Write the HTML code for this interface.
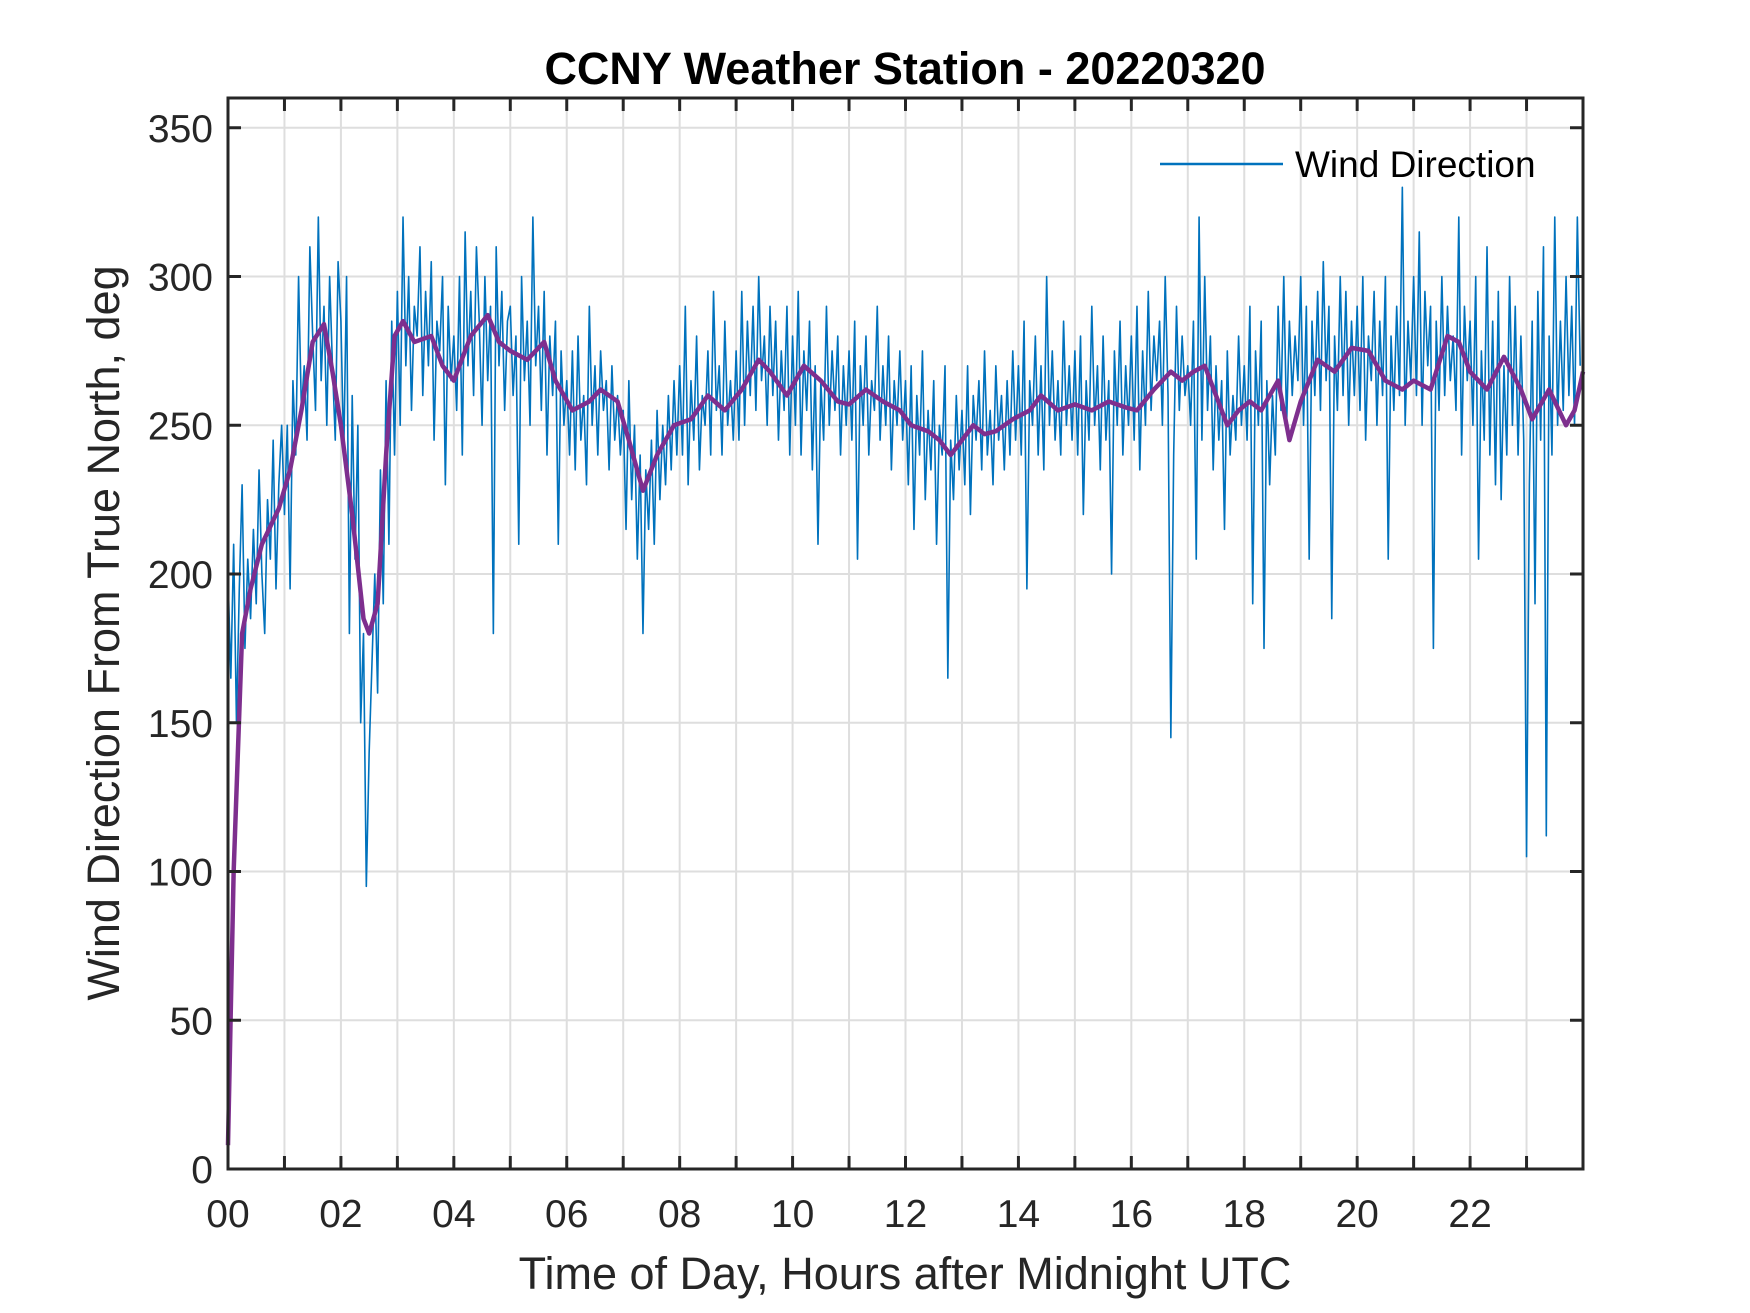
<!DOCTYPE html>
<html><head><meta charset="utf-8"><style>
html,body{margin:0;padding:0;background:#fff;}
svg{display:block;font-family:"Liberation Sans",Arial,sans-serif;}
</style></head><body>
<svg id="chart" width="1750" height="1313" viewBox="0 0 1750 1313" xmlns="http://www.w3.org/2000/svg">
<rect width="1750" height="1313" fill="#fff"/>
<g id="grid"></g>
<g id="series"></g>
<g id="axes"></g>
<text x="905" y="84" text-anchor="middle" font-size="45" font-weight="bold" fill="#000">CCNY Weather Station - 20220320</text>
<text x="905" y="1289" text-anchor="middle" font-size="45" fill="#262626">Time of Day, Hours after Midnight UTC</text>
<text transform="translate(119,633) rotate(-90)" text-anchor="middle" font-size="45" fill="#262626">Wind Direction From True North, deg</text>
<g>
<line x1="1160" y1="164" x2="1283" y2="164" stroke="#0072BD" stroke-width="2.5"/>
<text x="1295" y="177" font-size="37" fill="#000">Wind Direction</text>
</g>
</svg>
<script>
const xTicks=[0,2,4,6,8,10,12,14,16,18,20,22];
const xTickLabels=["00","02","04","06","08","10","12","14","16","18","20","22"];
const yTicks=[0,50,100,150,200,250,300,350];
const rawStepHours=0.05;
const rawDirection=[
200,165,210,150,195,230,175,205,185,215,190,235,200,180,225,205,245,195,230,250,
220,250,195,265,240,300,255,270,245,310,280,255,320,265,290,250,300,270,245,305,
285,240,300,180,260,205,250,150,180,95,140,170,200,160,235,190,265,210,285,240,
295,250,320,270,300,255,290,280,310,260,295,270,305,245,285,275,300,230,290,265,
280,255,300,240,315,270,295,260,310,285,250,300,265,290,180,310,270,295,255,285,
290,260,280,210,300,265,285,250,320,270,290,255,295,240,280,260,285,210,275,250,
265,240,275,235,280,245,260,230,290,250,270,240,275,255,265,235,270,245,260,240,
255,215,265,225,250,205,240,180,235,215,245,210,255,225,250,230,260,235,265,240,
270,240,290,230,265,245,280,235,260,250,275,240,295,255,270,240,285,250,265,245,
275,245,295,250,285,260,290,255,300,265,280,250,290,260,285,245,275,255,290,240,
280,250,295,240,275,255,285,235,270,210,265,245,290,250,275,255,280,240,270,250,
275,245,285,205,270,250,280,240,265,255,290,245,270,250,280,235,265,250,275,245,
265,230,270,215,260,240,275,225,255,235,265,210,250,240,270,165,245,225,260,235,
255,230,270,220,260,245,265,235,275,240,255,230,270,245,260,235,265,240,275,245,
270,240,285,195,265,250,280,240,270,235,300,250,275,245,265,240,285,250,270,245,
275,240,280,220,265,245,290,250,270,235,280,245,265,200,275,250,285,240,270,250,
280,245,290,235,275,250,295,255,280,265,285,250,300,260,145,240,290,255,280,260,
270,250,285,205,320,245,300,255,280,235,270,245,265,215,275,240,260,245,280,250,
270,245,290,190,275,250,285,175,265,230,260,240,290,255,300,250,285,260,280,265,
300,250,290,205,285,260,295,255,305,265,290,185,280,255,300,260,295,250,285,260,
290,255,300,245,280,265,295,250,285,260,300,205,280,255,290,260,330,250,285,265,
300,260,315,250,295,270,290,175,285,255,300,260,290,265,280,255,320,240,290,265,
285,250,300,205,275,245,310,240,285,230,295,225,270,240,300,250,290,240,280,245,
105,230,285,190,295,245,310,112,280,240,320,250,285,255,300,260,290,250,320,270];
const avgHours=[0,0.1,0.25,0.4,0.6,0.9,1.1,1.3,1.5,1.7,1.85,2.0,2.2,2.4,2.5,2.65,2.8,2.95,3.1,3.3,3.6,3.8,4.0,4.3,4.6,4.8,5.0,5.3,5.6,5.8,6.1,6.4,6.6,6.9,7.1,7.35,7.6,7.9,8.2,8.5,8.8,9.1,9.4,9.6,9.9,10.2,10.5,10.8,11.0,11.3,11.6,11.9,12.1,12.4,12.6,12.8,13.0,13.2,13.4,13.6,13.9,14.2,14.4,14.7,15.0,15.3,15.6,15.9,16.1,16.4,16.7,16.9,17.1,17.3,17.5,17.7,17.9,18.1,18.3,18.6,18.8,19.0,19.3,19.6,19.9,20.2,20.5,20.8,21.0,21.3,21.6,21.8,22.0,22.3,22.6,22.9,23.1,23.4,23.7,23.85,24];
const avgDirection=[8,100,180,195,210,222,235,255,278,284,268,250,220,185,180,190,240,280,285,278,280,270,265,280,287,278,275,272,278,265,255,258,262,258,245,228,240,250,252,260,255,262,272,268,260,270,265,258,257,262,258,255,250,248,245,240,245,250,247,248,252,255,260,255,257,255,258,256,255,262,268,265,268,270,260,250,255,258,255,265,245,258,272,268,276,275,265,262,265,262,280,278,268,262,273,262,252,262,250,255,268];

const L=228,R=1583,T=98,B=1169,XMAX=24,YMAX=360;
const sx=h=>L+(R-L)*h/XMAX;
const sy=v=>B-(B-T)*v/YMAX;
const NS="http://www.w3.org/2000/svg";
function mk(tag,attrs,parent){const e=document.createElementNS(NS,tag);for(const k in attrs)e.setAttribute(k,attrs[k]);parent.appendChild(e);return e;}
const grid=document.getElementById('grid'),series=document.getElementById('series'),axes=document.getElementById('axes');
for(let h=1;h<XMAX;h++){
  const g=mk('line',{x1:sx(h),x2:sx(h),y1:T,y2:B,stroke:'#dedede','stroke-width':2},grid);
  
  
}
yTicks.forEach(v=>{if(v===0)return;
  const g=mk('line',{x1:L,x2:R,y1:sy(v),y2:sy(v),stroke:'#dedede','stroke-width':2},grid);
  
  
});
const span=rawDirection.length*rawStepHours;
let d='';rawDirection.forEach((v,i)=>{d+=(i?'L':'M')+sx(i*rawStepHours*XMAX/span).toFixed(2)+' '+sy(v).toFixed(2);});
const raw=mk('path',{d:d,fill:'none',stroke:'#0072BD','stroke-width':1.6,'stroke-linejoin':'round'},series);


let d2='';avgHours.forEach((h,i)=>{d2+=(i?'L':'M')+sx(h).toFixed(2)+' '+sy(avgDirection[i]).toFixed(2);});
const avg=mk('path',{d:d2,fill:'none',stroke:'#7E2F8E','stroke-width':4.5,'stroke-linejoin':'round'},series);


const box=mk('rect',{x:L,y:T,width:R-L,height:B-T,fill:'none',stroke:'#262626','stroke-width':3},axes);


for(let h=1;h<XMAX;h++){
  mk('line',{x1:sx(h),x2:sx(h),y1:B,y2:B-13,stroke:'#262626','stroke-width':3},axes);
  mk('line',{x1:sx(h),x2:sx(h),y1:T,y2:T+13,stroke:'#262626','stroke-width':3},axes);
}
xTicks.forEach((h,i)=>{
  const t=mk('text',{x:sx(h),y:1227,'text-anchor':'middle','font-size':39,fill:'#262626'},axes);
  t.textContent=xTickLabels[i];
  
  
});
yTicks.forEach(v=>{
  mk('line',{x1:L,x2:L+13,y1:sy(v),y2:sy(v),stroke:'#262626','stroke-width':3},axes);
  mk('line',{x1:R,x2:R-13,y1:sy(v),y2:sy(v),stroke:'#262626','stroke-width':3},axes);
  const t=mk('text',{x:213,y:sy(v)+14,'text-anchor':'end','font-size':39,fill:'#262626'},axes);
  t.textContent=String(v);
  
  
});
</script>
</body></html>
